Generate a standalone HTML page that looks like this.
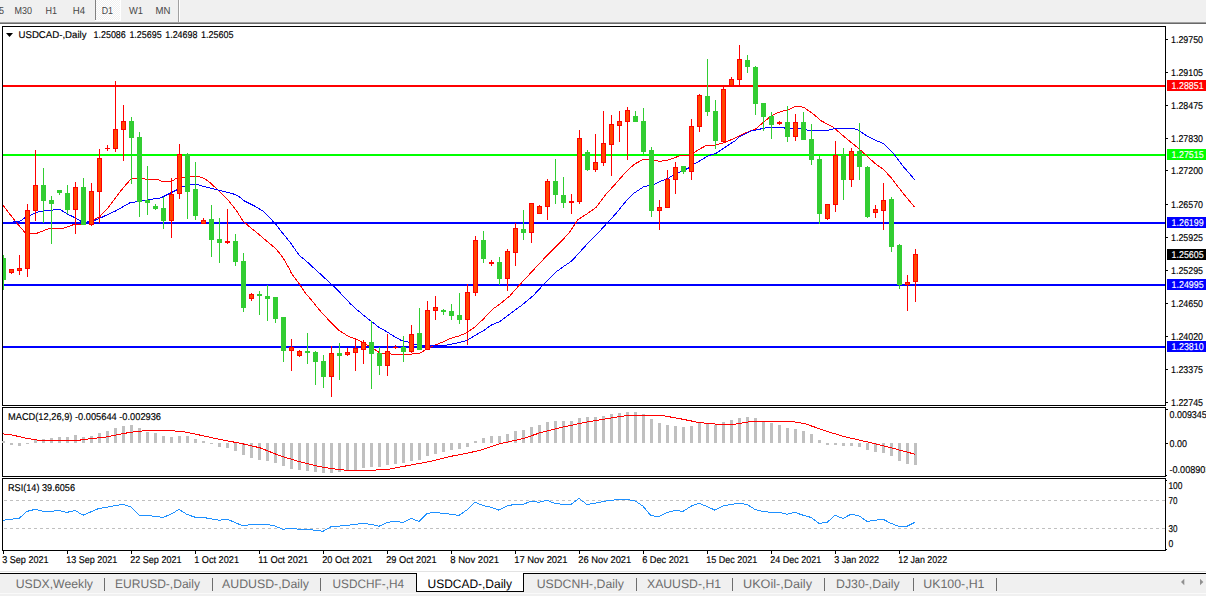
<!DOCTYPE html>
<html><head><meta charset="utf-8"><style>
html,body{margin:0;padding:0;background:#fff;width:1206px;height:596px;overflow:hidden}
svg{display:block;font-family:"Liberation Sans", sans-serif} text{text-rendering:geometricPrecision}
</style></head><body>
<svg width="1206" height="596" viewBox="0 0 1206 596">
<rect width="1206" height="596" fill="#ffffff"/>
<rect x="0" y="0" width="1206" height="22" fill="#f0f0f0"/>
<rect x="0" y="22" width="1206" height="1" fill="#a0a0a0"/>
<rect x="0" y="23" width="1206" height="1" fill="#696969"/>
<defs><pattern id="chk" width="2" height="2" patternUnits="userSpaceOnUse"><rect width="2" height="2" fill="#f0f0f0"/><rect width="1" height="1" fill="#ffffff"/><rect x="1" y="1" width="1" height="1" fill="#ffffff"/></pattern></defs>
<rect x="96" y="0" width="24" height="20" fill="url(#chk)"/>
<rect x="95" y="20" width="26" height="1" fill="#ffffff"/>
<rect x="120" y="0" width="1" height="20" fill="#ffffff"/>
<rect x="95" y="0" width="1" height="20" fill="#808080"/>
<rect x="178" y="0" width="1" height="22" fill="#a0a0a0"/>
<rect x="179" y="0" width="1" height="22" fill="#ffffff"/>
<text x="-1" y="14" font-size="10.2" fill="#474747" textLength="5" lengthAdjust="spacingAndGlyphs">5</text>
<text x="14.5" y="14" font-size="10.2" fill="#474747" textLength="17.5" lengthAdjust="spacingAndGlyphs">M30</text>
<text x="45.5" y="14" font-size="10.2" fill="#474747" textLength="11.5" lengthAdjust="spacingAndGlyphs">H1</text>
<text x="72.7" y="14" font-size="10.2" fill="#474747" textLength="12.3" lengthAdjust="spacingAndGlyphs">H4</text>
<text x="101.7" y="14" font-size="10.2" fill="#474747" textLength="11.3" lengthAdjust="spacingAndGlyphs">D1</text>
<text x="129" y="14" font-size="10.2" fill="#474747" textLength="14" lengthAdjust="spacingAndGlyphs">W1</text>
<text x="155.5" y="14" font-size="10.2" fill="#474747" textLength="14.9" lengthAdjust="spacingAndGlyphs">MN</text>
<g shape-rendering="crispEdges">
<rect x="2.5" y="26.5" width="1163" height="379" fill="none" stroke="#000" stroke-width="1"/>
<rect x="2.5" y="407.5" width="1163" height="69" fill="none" stroke="#000" stroke-width="1"/>
<rect x="2.5" y="478.5" width="1163" height="72" fill="none" stroke="#000" stroke-width="1"/>
</g>
<g shape-rendering="crispEdges">
<rect x="3" y="85" width="1162" height="2" fill="#ff0000"/>
<rect x="3" y="154" width="1162" height="2" fill="#00ff00"/>
<rect x="3" y="222" width="1162" height="2" fill="#0000ff"/>
<rect x="3" y="284" width="1162" height="2" fill="#0000ff"/>
<rect x="3" y="346" width="1162" height="2" fill="#0000ff"/>
</g>
<polyline points="2.9,205.0 15.1,221.0 25.2,232.8 30.2,234.0 36.0,233.6 50.3,228.1 62.1,228.6 75.5,224.0 81.4,224.0 94.2,219.5 99.6,216.8 108.3,207.5 121.4,190.1 131.2,178.6 143.2,178.3 145.4,179.2 157.4,179.4 162.0,181.5 171.4,181.5 176.8,178.1 184.2,177.4 191.5,176.2 197.6,176.4 201.6,177.4 206.3,179.8 211.0,183.5 217.4,189.5 228.2,200.2 236.2,210.3 243.0,221.0 249.7,227.0 255.0,231.2 263.1,238.0 271.1,244.7 276.5,249.4 283.2,258.1 288.6,267.5 291.7,273.8 298.4,282.5 305.1,292.6 311.8,300.6 321.2,312.0 330.6,322.1 338.7,330.2 345.0,334.2 348.1,336.3 356.1,339.0 362.8,342.3 369.5,346.4 374.9,349.7 380.3,353.1 395.0,354.4 407.1,354.4 419.2,353.4 425.9,349.7 433.9,345.6 442.0,342.3 448.7,339.2 455.0,336.9 459.1,335.9 466.6,332.8 474.2,327.5 483.2,319.2 492.3,309.4 499.9,304.1 510.0,295.8 517.1,287.6 529.2,274.5 543.3,259.4 555.3,247.3 565.0,237.3 570.1,231.5 578.1,219.5 586.2,214.4 596.2,207.4 606.3,193.8 616.1,183.2 625.2,172.6 634.2,164.3 643.3,159.4 650.8,159.8 659.9,161.3 668.9,159.8 680.3,155.6 690.3,155.0 693.8,152.6 699.7,149.0 706.7,145.3 714.9,145.3 724.3,142.6 735.0,138.2 740.1,135.3 748.1,131.8 755.2,129.3 761.2,124.2 768.3,118.2 774.3,114.2 782.4,111.1 789.0,109.6 795.1,106.3 800.1,106.6 804.1,107.6 809.2,111.1 815.2,115.6 820.2,120.2 827.3,124.2 833.3,127.2 838.4,131.7 848.4,140.2 856.8,146.9 865.2,154.4 875.2,163.6 883.6,169.5 892.0,178.7 902.1,192.1 914.6,207.2" fill="none" stroke="#ff0000" stroke-width="1" shape-rendering="crispEdges"/>
<polyline points="3.0,223.0 19.7,221.4 25.2,217.6 36.9,212.2 47.0,210.1 52.0,210.1 57.9,209.3 60.4,209.7 67.1,213.9 74.7,217.6 80.5,221.0 83.9,222.7 94.2,220.6 101.8,217.3 116.0,210.8 130.1,202.6 142.1,201.0 150.8,199.3 160.0,198.2 166.7,194.9 176.1,190.2 182.8,186.5 190.2,184.5 197.6,184.5 203.6,186.5 211.0,188.2 218.8,190.1 232.2,193.5 237.6,195.5 244.3,200.9 253.7,205.6 263.1,211.1 269.8,217.8 276.5,225.2 283.2,233.9 289.9,242.0 299.3,255.4 306.0,260.8 310.5,265.1 318.6,272.4 326.6,279.8 333.3,285.9 338.7,291.2 345.0,298.0 350.7,304.1 357.4,310.1 365.5,316.8 371.5,321.5 380.3,328.3 385.0,330.7 393.0,335.7 401.1,340.3 409.1,342.3 415.2,344.3 420.0,345.8 440.0,346.0 445.4,345.3 455.4,343.3 459.1,342.7 466.6,340.4 475.7,335.1 484.8,329.8 490.8,325.3 499.9,321.5 510.0,313.9 521.1,305.7 533.2,295.7 545.3,282.6 555.3,272.5 565.0,265.5 572.1,260.7 580.1,251.7 592.2,238.6 598.0,233.0 607.0,223.2 616.1,213.4 625.2,202.1 634.2,193.0 643.3,187.0 647.8,185.9 653.8,184.7 661.4,181.0 668.9,177.9 673.5,174.9 678.0,173.0 687.9,168.4 693.8,164.3 700.8,160.2 709.0,155.5 716.1,153.2 724.3,147.9 735.0,140.8 740.1,136.3 750.1,131.3 759.2,129.3 767.3,127.5 783.4,127.5 786.4,128.8 790.0,128.2 799.1,128.2 808.2,130.4 828.3,130.4 831.3,129.2 839.4,128.2 846.7,128.4 853.4,128.4 858.4,130.1 866.8,136.0 875.2,140.2 883.6,143.5 893.7,153.6 903.7,167.0 914.6,179.6" fill="none" stroke="#0000ff" stroke-width="1" shape-rendering="crispEdges"/>
<g shape-rendering="crispEdges">
<rect x="3" y="255" width="1" height="35" fill="#32cd32"/>
<rect x="1" y="258" width="5" height="22" fill="#32cd32"/>
<rect x="11" y="269" width="1" height="5" fill="#ff0000"/>
<rect x="9" y="269" width="5" height="4" fill="#ff0000"/>
<rect x="10" y="270" width="3" height="2" fill="#ff4500"/>
<rect x="19" y="255" width="1" height="20" fill="#ff0000"/>
<rect x="17" y="268" width="5" height="3" fill="#ff0000"/>
<rect x="18" y="269" width="3" height="1" fill="#ff4500"/>
<rect x="27" y="204" width="1" height="73" fill="#ff0000"/>
<rect x="25" y="210" width="5" height="59" fill="#ff0000"/>
<rect x="26" y="211" width="3" height="57" fill="#ff4500"/>
<rect x="35" y="150" width="1" height="71" fill="#ff0000"/>
<rect x="33" y="185" width="5" height="26" fill="#ff0000"/>
<rect x="34" y="186" width="3" height="24" fill="#ff4500"/>
<rect x="43" y="168" width="1" height="55" fill="#32cd32"/>
<rect x="41" y="185" width="5" height="16" fill="#32cd32"/>
<rect x="51" y="196" width="1" height="48" fill="#32cd32"/>
<rect x="49" y="200" width="5" height="4" fill="#32cd32"/>
<rect x="59" y="190" width="1" height="5" fill="#32cd32"/>
<rect x="57" y="190" width="5" height="3" fill="#32cd32"/>
<rect x="67" y="185" width="1" height="29" fill="#32cd32"/>
<rect x="65" y="193" width="5" height="17" fill="#32cd32"/>
<rect x="75" y="182" width="1" height="52" fill="#ff0000"/>
<rect x="73" y="187" width="5" height="23" fill="#ff0000"/>
<rect x="74" y="188" width="3" height="21" fill="#ff4500"/>
<rect x="83" y="178" width="1" height="47" fill="#32cd32"/>
<rect x="81" y="187" width="5" height="38" fill="#32cd32"/>
<rect x="91" y="183" width="1" height="43" fill="#ff0000"/>
<rect x="89" y="191" width="5" height="34" fill="#ff0000"/>
<rect x="90" y="192" width="3" height="32" fill="#ff4500"/>
<rect x="99" y="149" width="1" height="74" fill="#ff0000"/>
<rect x="97" y="158" width="5" height="34" fill="#ff0000"/>
<rect x="98" y="159" width="3" height="32" fill="#ff4500"/>
<rect x="107" y="145" width="1" height="6" fill="#ff0000"/>
<rect x="105" y="148" width="5" height="1" fill="#ff0000"/>
<rect x="115" y="81" width="1" height="71" fill="#ff0000"/>
<rect x="113" y="129" width="5" height="20" fill="#ff0000"/>
<rect x="114" y="130" width="3" height="18" fill="#ff4500"/>
<rect x="123" y="105" width="1" height="56" fill="#ff0000"/>
<rect x="121" y="121" width="5" height="9" fill="#ff0000"/>
<rect x="122" y="122" width="3" height="7" fill="#ff4500"/>
<rect x="131" y="117" width="1" height="67" fill="#32cd32"/>
<rect x="129" y="121" width="5" height="17" fill="#32cd32"/>
<rect x="139" y="132" width="1" height="85" fill="#32cd32"/>
<rect x="137" y="137" width="5" height="65" fill="#32cd32"/>
<rect x="147" y="166" width="1" height="49" fill="#32cd32"/>
<rect x="145" y="200" width="5" height="3" fill="#32cd32"/>
<rect x="155" y="204" width="1" height="6" fill="#32cd32"/>
<rect x="153" y="206" width="5" height="3" fill="#32cd32"/>
<rect x="163" y="197" width="1" height="32" fill="#32cd32"/>
<rect x="161" y="208" width="5" height="13" fill="#32cd32"/>
<rect x="171" y="178" width="1" height="60" fill="#ff0000"/>
<rect x="169" y="194" width="5" height="27" fill="#ff0000"/>
<rect x="170" y="195" width="3" height="25" fill="#ff4500"/>
<rect x="179" y="144" width="1" height="55" fill="#ff0000"/>
<rect x="177" y="154" width="5" height="40" fill="#ff0000"/>
<rect x="178" y="155" width="3" height="38" fill="#ff4500"/>
<rect x="187" y="153" width="1" height="66" fill="#32cd32"/>
<rect x="185" y="154" width="5" height="38" fill="#32cd32"/>
<rect x="195" y="162" width="1" height="58" fill="#32cd32"/>
<rect x="193" y="189" width="5" height="27" fill="#32cd32"/>
<rect x="203" y="218" width="1" height="6" fill="#ff0000"/>
<rect x="201" y="220" width="5" height="4" fill="#ff0000"/>
<rect x="202" y="221" width="3" height="2" fill="#ff4500"/>
<rect x="211" y="205" width="1" height="52" fill="#32cd32"/>
<rect x="209" y="219" width="5" height="21" fill="#32cd32"/>
<rect x="219" y="218" width="1" height="45" fill="#32cd32"/>
<rect x="217" y="239" width="5" height="4" fill="#32cd32"/>
<rect x="227" y="209" width="1" height="35" fill="#ff0000"/>
<rect x="225" y="241" width="5" height="2" fill="#ff0000"/>
<rect x="235" y="234" width="1" height="32" fill="#32cd32"/>
<rect x="233" y="241" width="5" height="21" fill="#32cd32"/>
<rect x="243" y="253" width="1" height="59" fill="#32cd32"/>
<rect x="241" y="261" width="5" height="47" fill="#32cd32"/>
<rect x="251" y="293" width="1" height="8" fill="#ff0000"/>
<rect x="249" y="294" width="5" height="5" fill="#ff0000"/>
<rect x="250" y="295" width="3" height="3" fill="#ff4500"/>
<rect x="259" y="291" width="1" height="24" fill="#32cd32"/>
<rect x="257" y="294" width="5" height="2" fill="#32cd32"/>
<rect x="267" y="285" width="1" height="36" fill="#32cd32"/>
<rect x="265" y="296" width="5" height="3" fill="#32cd32"/>
<rect x="275" y="297" width="1" height="26" fill="#32cd32"/>
<rect x="273" y="297" width="5" height="22" fill="#32cd32"/>
<rect x="283" y="317" width="1" height="45" fill="#32cd32"/>
<rect x="281" y="317" width="5" height="34" fill="#32cd32"/>
<rect x="291" y="339" width="1" height="32" fill="#ff0000"/>
<rect x="289" y="347" width="5" height="4" fill="#ff0000"/>
<rect x="290" y="348" width="3" height="2" fill="#ff4500"/>
<rect x="299" y="350" width="1" height="7" fill="#ff0000"/>
<rect x="297" y="351" width="5" height="5" fill="#ff0000"/>
<rect x="298" y="352" width="3" height="3" fill="#ff4500"/>
<rect x="307" y="333" width="1" height="31" fill="#32cd32"/>
<rect x="305" y="351" width="5" height="2" fill="#32cd32"/>
<rect x="315" y="351" width="1" height="34" fill="#32cd32"/>
<rect x="313" y="352" width="5" height="10" fill="#32cd32"/>
<rect x="323" y="355" width="1" height="33" fill="#32cd32"/>
<rect x="321" y="361" width="5" height="16" fill="#32cd32"/>
<rect x="331" y="346" width="1" height="51" fill="#ff0000"/>
<rect x="329" y="353" width="5" height="24" fill="#ff0000"/>
<rect x="330" y="354" width="3" height="22" fill="#ff4500"/>
<rect x="339" y="343" width="1" height="37" fill="#32cd32"/>
<rect x="337" y="353" width="5" height="3" fill="#32cd32"/>
<rect x="347" y="348" width="1" height="8" fill="#ff0000"/>
<rect x="345" y="352" width="5" height="3" fill="#ff0000"/>
<rect x="346" y="353" width="3" height="1" fill="#ff4500"/>
<rect x="355" y="338" width="1" height="33" fill="#ff0000"/>
<rect x="353" y="348" width="5" height="5" fill="#ff0000"/>
<rect x="354" y="349" width="3" height="3" fill="#ff4500"/>
<rect x="363" y="340" width="1" height="24" fill="#ff0000"/>
<rect x="361" y="342" width="5" height="8" fill="#ff0000"/>
<rect x="362" y="343" width="3" height="6" fill="#ff4500"/>
<rect x="371" y="321" width="1" height="68" fill="#32cd32"/>
<rect x="369" y="342" width="5" height="12" fill="#32cd32"/>
<rect x="379" y="347" width="1" height="28" fill="#32cd32"/>
<rect x="377" y="353" width="5" height="13" fill="#32cd32"/>
<rect x="387" y="334" width="1" height="42" fill="#ff0000"/>
<rect x="385" y="351" width="5" height="15" fill="#ff0000"/>
<rect x="386" y="352" width="3" height="13" fill="#ff4500"/>
<rect x="395" y="345" width="1" height="4" fill="#ff0000"/>
<rect x="393" y="347" width="5" height="1" fill="#ff0000"/>
<rect x="403" y="336" width="1" height="26" fill="#32cd32"/>
<rect x="401" y="347" width="5" height="5" fill="#32cd32"/>
<rect x="411" y="325" width="1" height="28" fill="#ff0000"/>
<rect x="409" y="334" width="5" height="18" fill="#ff0000"/>
<rect x="410" y="335" width="3" height="16" fill="#ff4500"/>
<rect x="419" y="308" width="1" height="42" fill="#32cd32"/>
<rect x="417" y="333" width="5" height="17" fill="#32cd32"/>
<rect x="427" y="301" width="1" height="49" fill="#ff0000"/>
<rect x="425" y="310" width="5" height="40" fill="#ff0000"/>
<rect x="426" y="311" width="3" height="38" fill="#ff4500"/>
<rect x="435" y="296" width="1" height="24" fill="#ff0000"/>
<rect x="433" y="307" width="5" height="4" fill="#ff0000"/>
<rect x="434" y="308" width="3" height="2" fill="#ff4500"/>
<rect x="443" y="309" width="1" height="6" fill="#32cd32"/>
<rect x="441" y="310" width="5" height="2" fill="#32cd32"/>
<rect x="451" y="304" width="1" height="16" fill="#32cd32"/>
<rect x="449" y="311" width="5" height="5" fill="#32cd32"/>
<rect x="459" y="293" width="1" height="31" fill="#32cd32"/>
<rect x="457" y="315" width="5" height="5" fill="#32cd32"/>
<rect x="467" y="284" width="1" height="61" fill="#ff0000"/>
<rect x="465" y="292" width="5" height="28" fill="#ff0000"/>
<rect x="466" y="293" width="3" height="26" fill="#ff4500"/>
<rect x="475" y="236" width="1" height="60" fill="#ff0000"/>
<rect x="473" y="240" width="5" height="53" fill="#ff0000"/>
<rect x="474" y="241" width="3" height="51" fill="#ff4500"/>
<rect x="483" y="231" width="1" height="32" fill="#32cd32"/>
<rect x="481" y="240" width="5" height="19" fill="#32cd32"/>
<rect x="491" y="260" width="1" height="6" fill="#ff0000"/>
<rect x="489" y="262" width="5" height="2" fill="#ff0000"/>
<rect x="499" y="257" width="1" height="28" fill="#32cd32"/>
<rect x="497" y="262" width="5" height="17" fill="#32cd32"/>
<rect x="507" y="249" width="1" height="42" fill="#ff0000"/>
<rect x="505" y="251" width="5" height="28" fill="#ff0000"/>
<rect x="506" y="252" width="3" height="26" fill="#ff4500"/>
<rect x="515" y="223" width="1" height="43" fill="#ff0000"/>
<rect x="513" y="228" width="5" height="25" fill="#ff0000"/>
<rect x="514" y="229" width="3" height="23" fill="#ff4500"/>
<rect x="523" y="210" width="1" height="30" fill="#32cd32"/>
<rect x="521" y="229" width="5" height="4" fill="#32cd32"/>
<rect x="531" y="203" width="1" height="40" fill="#ff0000"/>
<rect x="529" y="203" width="5" height="30" fill="#ff0000"/>
<rect x="530" y="204" width="3" height="28" fill="#ff4500"/>
<rect x="539" y="205" width="1" height="9" fill="#ff0000"/>
<rect x="537" y="206" width="5" height="8" fill="#ff0000"/>
<rect x="538" y="207" width="3" height="6" fill="#ff4500"/>
<rect x="547" y="179" width="1" height="41" fill="#ff0000"/>
<rect x="545" y="181" width="5" height="26" fill="#ff0000"/>
<rect x="546" y="182" width="3" height="24" fill="#ff4500"/>
<rect x="555" y="159" width="1" height="45" fill="#32cd32"/>
<rect x="553" y="181" width="5" height="14" fill="#32cd32"/>
<rect x="563" y="177" width="1" height="31" fill="#32cd32"/>
<rect x="561" y="195" width="5" height="8" fill="#32cd32"/>
<rect x="571" y="194" width="1" height="20" fill="#ff0000"/>
<rect x="569" y="201" width="5" height="2" fill="#ff0000"/>
<rect x="579" y="130" width="1" height="74" fill="#ff0000"/>
<rect x="577" y="138" width="5" height="64" fill="#ff0000"/>
<rect x="578" y="139" width="3" height="62" fill="#ff4500"/>
<rect x="587" y="150" width="1" height="21" fill="#32cd32"/>
<rect x="585" y="152" width="5" height="18" fill="#32cd32"/>
<rect x="595" y="134" width="1" height="38" fill="#ff0000"/>
<rect x="593" y="162" width="5" height="8" fill="#ff0000"/>
<rect x="594" y="163" width="3" height="6" fill="#ff4500"/>
<rect x="603" y="111" width="1" height="55" fill="#ff0000"/>
<rect x="601" y="143" width="5" height="20" fill="#ff0000"/>
<rect x="602" y="144" width="3" height="18" fill="#ff4500"/>
<rect x="611" y="115" width="1" height="61" fill="#ff0000"/>
<rect x="609" y="124" width="5" height="21" fill="#ff0000"/>
<rect x="610" y="125" width="3" height="19" fill="#ff4500"/>
<rect x="619" y="111" width="1" height="31" fill="#ff0000"/>
<rect x="617" y="121" width="5" height="5" fill="#ff0000"/>
<rect x="618" y="122" width="3" height="3" fill="#ff4500"/>
<rect x="627" y="107" width="1" height="53" fill="#ff0000"/>
<rect x="625" y="110" width="5" height="12" fill="#ff0000"/>
<rect x="626" y="111" width="3" height="10" fill="#ff4500"/>
<rect x="635" y="111" width="1" height="11" fill="#32cd32"/>
<rect x="633" y="116" width="5" height="6" fill="#32cd32"/>
<rect x="643" y="108" width="1" height="46" fill="#32cd32"/>
<rect x="641" y="121" width="5" height="31" fill="#32cd32"/>
<rect x="651" y="147" width="1" height="70" fill="#32cd32"/>
<rect x="649" y="150" width="5" height="61" fill="#32cd32"/>
<rect x="659" y="200" width="1" height="30" fill="#ff0000"/>
<rect x="657" y="207" width="5" height="4" fill="#ff0000"/>
<rect x="658" y="208" width="3" height="2" fill="#ff4500"/>
<rect x="667" y="170" width="1" height="38" fill="#ff0000"/>
<rect x="665" y="179" width="5" height="29" fill="#ff0000"/>
<rect x="666" y="180" width="3" height="27" fill="#ff4500"/>
<rect x="675" y="162" width="1" height="32" fill="#ff0000"/>
<rect x="673" y="167" width="5" height="13" fill="#ff0000"/>
<rect x="674" y="168" width="3" height="11" fill="#ff4500"/>
<rect x="683" y="166" width="1" height="8" fill="#32cd32"/>
<rect x="681" y="166" width="5" height="6" fill="#32cd32"/>
<rect x="691" y="119" width="1" height="61" fill="#ff0000"/>
<rect x="689" y="126" width="5" height="46" fill="#ff0000"/>
<rect x="690" y="127" width="3" height="44" fill="#ff4500"/>
<rect x="699" y="94" width="1" height="38" fill="#ff0000"/>
<rect x="697" y="95" width="5" height="32" fill="#ff0000"/>
<rect x="698" y="96" width="3" height="30" fill="#ff4500"/>
<rect x="707" y="59" width="1" height="57" fill="#32cd32"/>
<rect x="705" y="96" width="5" height="16" fill="#32cd32"/>
<rect x="715" y="100" width="1" height="49" fill="#32cd32"/>
<rect x="713" y="111" width="5" height="30" fill="#32cd32"/>
<rect x="723" y="86" width="1" height="56" fill="#ff0000"/>
<rect x="721" y="89" width="5" height="53" fill="#ff0000"/>
<rect x="722" y="90" width="3" height="51" fill="#ff4500"/>
<rect x="731" y="77" width="1" height="9" fill="#ff0000"/>
<rect x="729" y="79" width="5" height="7" fill="#ff0000"/>
<rect x="730" y="80" width="3" height="5" fill="#ff4500"/>
<rect x="739" y="45" width="1" height="41" fill="#ff0000"/>
<rect x="737" y="59" width="5" height="21" fill="#ff0000"/>
<rect x="738" y="60" width="3" height="19" fill="#ff4500"/>
<rect x="747" y="55" width="1" height="18" fill="#32cd32"/>
<rect x="745" y="60" width="5" height="7" fill="#32cd32"/>
<rect x="755" y="66" width="1" height="49" fill="#32cd32"/>
<rect x="753" y="67" width="5" height="37" fill="#32cd32"/>
<rect x="763" y="103" width="1" height="28" fill="#32cd32"/>
<rect x="761" y="103" width="5" height="14" fill="#32cd32"/>
<rect x="771" y="112" width="1" height="27" fill="#32cd32"/>
<rect x="769" y="116" width="5" height="9" fill="#32cd32"/>
<rect x="779" y="121" width="1" height="4" fill="#ff0000"/>
<rect x="777" y="122" width="5" height="2" fill="#ff0000"/>
<rect x="787" y="106" width="1" height="36" fill="#32cd32"/>
<rect x="785" y="122" width="5" height="15" fill="#32cd32"/>
<rect x="795" y="114" width="1" height="27" fill="#ff0000"/>
<rect x="793" y="122" width="5" height="15" fill="#ff0000"/>
<rect x="794" y="123" width="3" height="13" fill="#ff4500"/>
<rect x="803" y="112" width="1" height="28" fill="#32cd32"/>
<rect x="801" y="122" width="5" height="18" fill="#32cd32"/>
<rect x="811" y="124" width="1" height="41" fill="#32cd32"/>
<rect x="809" y="139" width="5" height="21" fill="#32cd32"/>
<rect x="819" y="156" width="1" height="68" fill="#32cd32"/>
<rect x="817" y="159" width="5" height="55" fill="#32cd32"/>
<rect x="827" y="204" width="1" height="16" fill="#ff0000"/>
<rect x="825" y="204" width="5" height="15" fill="#ff0000"/>
<rect x="826" y="205" width="3" height="13" fill="#ff4500"/>
<rect x="835" y="141" width="1" height="71" fill="#ff0000"/>
<rect x="833" y="155" width="5" height="50" fill="#ff0000"/>
<rect x="834" y="156" width="3" height="48" fill="#ff4500"/>
<rect x="843" y="148" width="1" height="52" fill="#32cd32"/>
<rect x="841" y="155" width="5" height="25" fill="#32cd32"/>
<rect x="851" y="148" width="1" height="39" fill="#ff0000"/>
<rect x="849" y="151" width="5" height="29" fill="#ff0000"/>
<rect x="850" y="152" width="3" height="27" fill="#ff4500"/>
<rect x="859" y="123" width="1" height="57" fill="#32cd32"/>
<rect x="857" y="151" width="5" height="16" fill="#32cd32"/>
<rect x="867" y="166" width="1" height="52" fill="#32cd32"/>
<rect x="865" y="167" width="5" height="50" fill="#32cd32"/>
<rect x="875" y="205" width="1" height="13" fill="#ff0000"/>
<rect x="873" y="209" width="5" height="4" fill="#ff0000"/>
<rect x="874" y="210" width="3" height="2" fill="#ff4500"/>
<rect x="883" y="183" width="1" height="47" fill="#ff0000"/>
<rect x="881" y="200" width="5" height="11" fill="#ff0000"/>
<rect x="882" y="201" width="3" height="9" fill="#ff4500"/>
<rect x="891" y="197" width="1" height="55" fill="#32cd32"/>
<rect x="889" y="199" width="5" height="48" fill="#32cd32"/>
<rect x="899" y="244" width="1" height="45" fill="#32cd32"/>
<rect x="897" y="245" width="5" height="40" fill="#32cd32"/>
<rect x="907" y="275" width="1" height="36" fill="#ff0000"/>
<rect x="905" y="282" width="5" height="3" fill="#ff0000"/>
<rect x="906" y="283" width="3" height="1" fill="#ff4500"/>
<rect x="915" y="249" width="1" height="53" fill="#ff0000"/>
<rect x="913" y="254" width="5" height="28" fill="#ff0000"/>
<rect x="914" y="255" width="3" height="26" fill="#ff4500"/>
</g>
<rect x="0" y="26" width="2" height="380" fill="#ffffff"/>
<g shape-rendering="crispEdges">
<rect x="2" y="26" width="1" height="380" fill="#000"/>
</g>
<rect x="1166" y="39" width="2" height="1" fill="#000"/>
<text x="1171" y="43" font-size="9.9" fill="#000" textLength="32" lengthAdjust="spacingAndGlyphs" stroke="#000" stroke-width="0.15">1.29750</text>
<rect x="1166" y="72" width="2" height="1" fill="#000"/>
<text x="1171" y="76" font-size="9.9" fill="#000" textLength="32" lengthAdjust="spacingAndGlyphs" stroke="#000" stroke-width="0.15">1.29105</text>
<rect x="1166" y="105" width="2" height="1" fill="#000"/>
<text x="1171" y="109" font-size="9.9" fill="#000" textLength="32" lengthAdjust="spacingAndGlyphs" stroke="#000" stroke-width="0.15">1.28475</text>
<rect x="1166" y="138" width="2" height="1" fill="#000"/>
<text x="1171" y="142" font-size="9.9" fill="#000" textLength="32" lengthAdjust="spacingAndGlyphs" stroke="#000" stroke-width="0.15">1.27830</text>
<rect x="1166" y="170" width="2" height="1" fill="#000"/>
<text x="1171" y="174" font-size="9.9" fill="#000" textLength="32" lengthAdjust="spacingAndGlyphs" stroke="#000" stroke-width="0.15">1.27200</text>
<rect x="1166" y="204" width="2" height="1" fill="#000"/>
<text x="1171" y="208" font-size="9.9" fill="#000" textLength="32" lengthAdjust="spacingAndGlyphs" stroke="#000" stroke-width="0.15">1.26570</text>
<rect x="1166" y="237" width="2" height="1" fill="#000"/>
<text x="1171" y="241" font-size="9.9" fill="#000" textLength="32" lengthAdjust="spacingAndGlyphs" stroke="#000" stroke-width="0.15">1.25925</text>
<rect x="1166" y="270" width="2" height="1" fill="#000"/>
<text x="1171" y="274" font-size="9.9" fill="#000" textLength="32" lengthAdjust="spacingAndGlyphs" stroke="#000" stroke-width="0.15">1.25295</text>
<rect x="1166" y="303" width="2" height="1" fill="#000"/>
<text x="1171" y="307" font-size="9.9" fill="#000" textLength="32" lengthAdjust="spacingAndGlyphs" stroke="#000" stroke-width="0.15">1.24650</text>
<rect x="1166" y="336" width="2" height="1" fill="#000"/>
<text x="1171" y="340" font-size="9.9" fill="#000" textLength="32" lengthAdjust="spacingAndGlyphs" stroke="#000" stroke-width="0.15">1.24020</text>
<rect x="1166" y="369" width="2" height="1" fill="#000"/>
<text x="1171" y="373" font-size="9.9" fill="#000" textLength="32" lengthAdjust="spacingAndGlyphs" stroke="#000" stroke-width="0.15">1.23375</text>
<rect x="1166" y="402" width="2" height="1" fill="#000"/>
<text x="1171" y="406" font-size="9.9" fill="#000" textLength="32" lengthAdjust="spacingAndGlyphs" stroke="#000" stroke-width="0.15">1.22745</text>
<rect x="1167" y="80" width="39" height="11" fill="#ff0000"/>
<text x="1171.6" y="89" font-size="9.9" fill="#fff" textLength="32" lengthAdjust="spacingAndGlyphs" stroke="#fff" stroke-width="0.15">1.28851</text>
<rect x="1167" y="149" width="39" height="11" fill="#00ff00"/>
<text x="1171.6" y="158" font-size="9.9" fill="#fff" textLength="32" lengthAdjust="spacingAndGlyphs" stroke="#fff" stroke-width="0.15">1.27515</text>
<rect x="1167" y="217" width="39" height="11" fill="#0000ff"/>
<text x="1171.6" y="226" font-size="9.9" fill="#fff" textLength="32" lengthAdjust="spacingAndGlyphs" stroke="#fff" stroke-width="0.15">1.26199</text>
<rect x="1167" y="249" width="39" height="11" fill="#000000"/>
<text x="1171.6" y="258" font-size="9.9" fill="#fff" textLength="32" lengthAdjust="spacingAndGlyphs" stroke="#fff" stroke-width="0.15">1.25605</text>
<rect x="1167" y="279" width="39" height="11" fill="#0000ff"/>
<text x="1171.6" y="288" font-size="9.9" fill="#fff" textLength="32" lengthAdjust="spacingAndGlyphs" stroke="#fff" stroke-width="0.15">1.24995</text>
<rect x="1167" y="341" width="39" height="11" fill="#0000ff"/>
<text x="1171.6" y="350" font-size="9.9" fill="#fff" textLength="32" lengthAdjust="spacingAndGlyphs" stroke="#fff" stroke-width="0.15">1.23810</text>
<path d="M6,33 L13,33 L9.5,37 Z" fill="#000"/>
<text x="18.5" y="38" font-size="9.9" fill="#000" textLength="68" lengthAdjust="spacingAndGlyphs" stroke="#000" stroke-width="0.15">USDCAD-,Daily</text>
<text x="93.5" y="38" font-size="9.9" fill="#000" textLength="32.3" lengthAdjust="spacingAndGlyphs" stroke="#000" stroke-width="0.15">1.25086</text>
<text x="129.4" y="38" font-size="9.9" fill="#000" textLength="32.3" lengthAdjust="spacingAndGlyphs" stroke="#000" stroke-width="0.15">1.25695</text>
<text x="165.2" y="38" font-size="9.9" fill="#000" textLength="32.3" lengthAdjust="spacingAndGlyphs" stroke="#000" stroke-width="0.15">1.24698</text>
<text x="201" y="38" font-size="9.9" fill="#000" textLength="32.6" lengthAdjust="spacingAndGlyphs" stroke="#000" stroke-width="0.15">1.25605</text>
<g shape-rendering="crispEdges">
<rect x="2" y="441" width="3" height="2" fill="#c0c0c0"/>
<rect x="10" y="443" width="3" height="2" fill="#c0c0c0"/>
<rect x="18" y="443" width="3" height="3" fill="#c0c0c0"/>
<rect x="26" y="443" width="3" height="1" fill="#c0c0c0"/>
<rect x="34" y="439" width="3" height="4" fill="#c0c0c0"/>
<rect x="42" y="439" width="3" height="4" fill="#c0c0c0"/>
<rect x="50" y="438" width="3" height="5" fill="#c0c0c0"/>
<rect x="58" y="437" width="3" height="6" fill="#c0c0c0"/>
<rect x="66" y="437" width="3" height="6" fill="#c0c0c0"/>
<rect x="74" y="435" width="3" height="8" fill="#c0c0c0"/>
<rect x="82" y="437" width="3" height="6" fill="#c0c0c0"/>
<rect x="90" y="436" width="3" height="7" fill="#c0c0c0"/>
<rect x="98" y="433" width="3" height="10" fill="#c0c0c0"/>
<rect x="106" y="431" width="3" height="12" fill="#c0c0c0"/>
<rect x="114" y="428" width="3" height="15" fill="#c0c0c0"/>
<rect x="122" y="426" width="3" height="17" fill="#c0c0c0"/>
<rect x="130" y="425" width="3" height="18" fill="#c0c0c0"/>
<rect x="138" y="428" width="3" height="15" fill="#c0c0c0"/>
<rect x="146" y="432" width="3" height="11" fill="#c0c0c0"/>
<rect x="154" y="433" width="3" height="10" fill="#c0c0c0"/>
<rect x="162" y="436" width="3" height="7" fill="#c0c0c0"/>
<rect x="170" y="437" width="3" height="6" fill="#c0c0c0"/>
<rect x="178" y="436" width="3" height="7" fill="#c0c0c0"/>
<rect x="186" y="436" width="3" height="7" fill="#c0c0c0"/>
<rect x="194" y="439" width="3" height="4" fill="#c0c0c0"/>
<rect x="202" y="441" width="3" height="2" fill="#c0c0c0"/>
<rect x="210" y="443" width="3" height="1" fill="#c0c0c0"/>
<rect x="218" y="443" width="3" height="4" fill="#c0c0c0"/>
<rect x="226" y="443" width="3" height="5" fill="#c0c0c0"/>
<rect x="234" y="443" width="3" height="8" fill="#c0c0c0"/>
<rect x="242" y="443" width="3" height="12" fill="#c0c0c0"/>
<rect x="250" y="443" width="3" height="15" fill="#c0c0c0"/>
<rect x="258" y="443" width="3" height="17" fill="#c0c0c0"/>
<rect x="266" y="443" width="3" height="18" fill="#c0c0c0"/>
<rect x="274" y="443" width="3" height="20" fill="#c0c0c0"/>
<rect x="282" y="443" width="3" height="23" fill="#c0c0c0"/>
<rect x="290" y="443" width="3" height="26" fill="#c0c0c0"/>
<rect x="298" y="443" width="3" height="27" fill="#c0c0c0"/>
<rect x="306" y="443" width="3" height="28" fill="#c0c0c0"/>
<rect x="314" y="443" width="3" height="29" fill="#c0c0c0"/>
<rect x="322" y="443" width="3" height="30" fill="#c0c0c0"/>
<rect x="330" y="443" width="3" height="30" fill="#c0c0c0"/>
<rect x="338" y="443" width="3" height="29" fill="#c0c0c0"/>
<rect x="346" y="443" width="3" height="28" fill="#c0c0c0"/>
<rect x="354" y="443" width="3" height="27" fill="#c0c0c0"/>
<rect x="362" y="443" width="3" height="25" fill="#c0c0c0"/>
<rect x="370" y="443" width="3" height="24" fill="#c0c0c0"/>
<rect x="378" y="443" width="3" height="24" fill="#c0c0c0"/>
<rect x="386" y="443" width="3" height="22" fill="#c0c0c0"/>
<rect x="394" y="443" width="3" height="21" fill="#c0c0c0"/>
<rect x="402" y="443" width="3" height="20" fill="#c0c0c0"/>
<rect x="410" y="443" width="3" height="18" fill="#c0c0c0"/>
<rect x="418" y="443" width="3" height="17" fill="#c0c0c0"/>
<rect x="426" y="443" width="3" height="13" fill="#c0c0c0"/>
<rect x="434" y="443" width="3" height="11" fill="#c0c0c0"/>
<rect x="442" y="443" width="3" height="9" fill="#c0c0c0"/>
<rect x="450" y="443" width="3" height="7" fill="#c0c0c0"/>
<rect x="458" y="443" width="3" height="6" fill="#c0c0c0"/>
<rect x="466" y="443" width="3" height="4" fill="#c0c0c0"/>
<rect x="474" y="441" width="3" height="2" fill="#c0c0c0"/>
<rect x="482" y="438" width="3" height="5" fill="#c0c0c0"/>
<rect x="490" y="436" width="3" height="7" fill="#c0c0c0"/>
<rect x="498" y="436" width="3" height="7" fill="#c0c0c0"/>
<rect x="506" y="434" width="3" height="9" fill="#c0c0c0"/>
<rect x="514" y="431" width="3" height="12" fill="#c0c0c0"/>
<rect x="522" y="430" width="3" height="13" fill="#c0c0c0"/>
<rect x="530" y="427" width="3" height="16" fill="#c0c0c0"/>
<rect x="538" y="425" width="3" height="18" fill="#c0c0c0"/>
<rect x="546" y="422" width="3" height="21" fill="#c0c0c0"/>
<rect x="554" y="421" width="3" height="22" fill="#c0c0c0"/>
<rect x="562" y="421" width="3" height="22" fill="#c0c0c0"/>
<rect x="570" y="421" width="3" height="22" fill="#c0c0c0"/>
<rect x="578" y="418" width="3" height="25" fill="#c0c0c0"/>
<rect x="586" y="417" width="3" height="26" fill="#c0c0c0"/>
<rect x="594" y="417" width="3" height="26" fill="#c0c0c0"/>
<rect x="602" y="416" width="3" height="27" fill="#c0c0c0"/>
<rect x="610" y="414" width="3" height="29" fill="#c0c0c0"/>
<rect x="618" y="413" width="3" height="30" fill="#c0c0c0"/>
<rect x="626" y="412" width="3" height="31" fill="#c0c0c0"/>
<rect x="634" y="412" width="3" height="31" fill="#c0c0c0"/>
<rect x="642" y="414" width="3" height="29" fill="#c0c0c0"/>
<rect x="650" y="419" width="3" height="24" fill="#c0c0c0"/>
<rect x="658" y="423" width="3" height="20" fill="#c0c0c0"/>
<rect x="666" y="425" width="3" height="18" fill="#c0c0c0"/>
<rect x="674" y="426" width="3" height="17" fill="#c0c0c0"/>
<rect x="682" y="427" width="3" height="16" fill="#c0c0c0"/>
<rect x="690" y="426" width="3" height="17" fill="#c0c0c0"/>
<rect x="698" y="423" width="3" height="20" fill="#c0c0c0"/>
<rect x="706" y="424" width="3" height="19" fill="#c0c0c0"/>
<rect x="714" y="425" width="3" height="18" fill="#c0c0c0"/>
<rect x="722" y="422" width="3" height="21" fill="#c0c0c0"/>
<rect x="730" y="420" width="3" height="23" fill="#c0c0c0"/>
<rect x="738" y="418" width="3" height="25" fill="#c0c0c0"/>
<rect x="746" y="417" width="3" height="26" fill="#c0c0c0"/>
<rect x="754" y="418" width="3" height="25" fill="#c0c0c0"/>
<rect x="762" y="422" width="3" height="21" fill="#c0c0c0"/>
<rect x="770" y="423" width="3" height="20" fill="#c0c0c0"/>
<rect x="778" y="425" width="3" height="18" fill="#c0c0c0"/>
<rect x="786" y="428" width="3" height="15" fill="#c0c0c0"/>
<rect x="794" y="429" width="3" height="14" fill="#c0c0c0"/>
<rect x="802" y="431" width="3" height="12" fill="#c0c0c0"/>
<rect x="810" y="434" width="3" height="9" fill="#c0c0c0"/>
<rect x="818" y="440" width="3" height="3" fill="#c0c0c0"/>
<rect x="826" y="443" width="3" height="2" fill="#c0c0c0"/>
<rect x="834" y="443" width="3" height="2" fill="#c0c0c0"/>
<rect x="842" y="443" width="3" height="3" fill="#c0c0c0"/>
<rect x="850" y="443" width="3" height="3" fill="#c0c0c0"/>
<rect x="858" y="443" width="3" height="4" fill="#c0c0c0"/>
<rect x="866" y="443" width="3" height="7" fill="#c0c0c0"/>
<rect x="874" y="443" width="3" height="9" fill="#c0c0c0"/>
<rect x="882" y="443" width="3" height="10" fill="#c0c0c0"/>
<rect x="890" y="443" width="3" height="13" fill="#c0c0c0"/>
<rect x="898" y="443" width="3" height="18" fill="#c0c0c0"/>
<rect x="906" y="443" width="3" height="21" fill="#c0c0c0"/>
<rect x="914" y="443" width="3" height="22" fill="#c0c0c0"/>
</g>
<polyline points="3.0,433.9 12.0,434.9 23.9,437.8 39.8,440.4 59.7,440.4 77.6,440.4 89.6,438.8 107.5,436.8 123.4,433.5 137.3,431.3 151.2,430.5 167.2,430.5 183.0,431.5 199.0,434.9 214.9,438.4 226.9,440.8 240.0,443.2 259.9,447.8 279.8,455.7 299.7,461.7 319.6,466.7 339.5,469.7 347.5,470.3 371.3,470.3 389.3,469.1 409.2,465.3 429.0,461.7 449.0,456.7 468.9,452.8 480.0,450.4 499.9,443.8 523.8,438.4 539.7,432.9 563.6,426.9 587.5,421.9 611.3,417.9 631.2,415.0 659.1,415.0 679.0,418.5 698.9,422.5 720.0,424.5 734.0,424.3 751.8,421.3 791.6,421.3 805.6,423.9 825.5,430.9 843.4,436.4 869.3,442.4 891.1,447.8 915.0,454.2" fill="none" stroke="#ff0000" stroke-width="1" shape-rendering="crispEdges"/>
<text x="8" y="420" font-size="9.9" fill="#000" textLength="153" lengthAdjust="spacingAndGlyphs" stroke="#000" stroke-width="0.15">MACD(12,26,9) -0.005644 -0.002936</text>
<rect x="1166" y="409" width="2" height="1" fill="#000"/>
<text x="1169.5" y="418" font-size="9.9" fill="#000" textLength="37.3" lengthAdjust="spacingAndGlyphs" stroke="#000" stroke-width="0.15">0.009345</text>
<rect x="1166" y="443" width="2" height="1" fill="#000"/>
<text x="1169.5" y="447" font-size="9.9" fill="#000" textLength="17.4" lengthAdjust="spacingAndGlyphs" stroke="#000" stroke-width="0.15">0.00</text>
<rect x="1166" y="475" width="1" height="1" fill="#000"/>
<text x="1169.5" y="473" font-size="9.9" fill="#000" textLength="41" lengthAdjust="spacingAndGlyphs" stroke="#000" stroke-width="0.15">-0.008903</text>
<g shape-rendering="crispEdges">
<rect x="4" y="500" width="3" height="1" fill="#c0c0c0"/>
<rect x="10" y="500" width="3" height="1" fill="#c0c0c0"/>
<rect x="16" y="500" width="3" height="1" fill="#c0c0c0"/>
<rect x="22" y="500" width="3" height="1" fill="#c0c0c0"/>
<rect x="28" y="500" width="3" height="1" fill="#c0c0c0"/>
<rect x="34" y="500" width="3" height="1" fill="#c0c0c0"/>
<rect x="40" y="500" width="3" height="1" fill="#c0c0c0"/>
<rect x="46" y="500" width="3" height="1" fill="#c0c0c0"/>
<rect x="52" y="500" width="3" height="1" fill="#c0c0c0"/>
<rect x="58" y="500" width="3" height="1" fill="#c0c0c0"/>
<rect x="64" y="500" width="3" height="1" fill="#c0c0c0"/>
<rect x="70" y="500" width="3" height="1" fill="#c0c0c0"/>
<rect x="76" y="500" width="3" height="1" fill="#c0c0c0"/>
<rect x="82" y="500" width="3" height="1" fill="#c0c0c0"/>
<rect x="88" y="500" width="3" height="1" fill="#c0c0c0"/>
<rect x="94" y="500" width="3" height="1" fill="#c0c0c0"/>
<rect x="100" y="500" width="3" height="1" fill="#c0c0c0"/>
<rect x="106" y="500" width="3" height="1" fill="#c0c0c0"/>
<rect x="112" y="500" width="3" height="1" fill="#c0c0c0"/>
<rect x="118" y="500" width="3" height="1" fill="#c0c0c0"/>
<rect x="124" y="500" width="3" height="1" fill="#c0c0c0"/>
<rect x="130" y="500" width="3" height="1" fill="#c0c0c0"/>
<rect x="136" y="500" width="3" height="1" fill="#c0c0c0"/>
<rect x="142" y="500" width="3" height="1" fill="#c0c0c0"/>
<rect x="148" y="500" width="3" height="1" fill="#c0c0c0"/>
<rect x="154" y="500" width="3" height="1" fill="#c0c0c0"/>
<rect x="160" y="500" width="3" height="1" fill="#c0c0c0"/>
<rect x="166" y="500" width="3" height="1" fill="#c0c0c0"/>
<rect x="172" y="500" width="3" height="1" fill="#c0c0c0"/>
<rect x="178" y="500" width="3" height="1" fill="#c0c0c0"/>
<rect x="184" y="500" width="3" height="1" fill="#c0c0c0"/>
<rect x="190" y="500" width="3" height="1" fill="#c0c0c0"/>
<rect x="196" y="500" width="3" height="1" fill="#c0c0c0"/>
<rect x="202" y="500" width="3" height="1" fill="#c0c0c0"/>
<rect x="208" y="500" width="3" height="1" fill="#c0c0c0"/>
<rect x="214" y="500" width="3" height="1" fill="#c0c0c0"/>
<rect x="220" y="500" width="3" height="1" fill="#c0c0c0"/>
<rect x="226" y="500" width="3" height="1" fill="#c0c0c0"/>
<rect x="232" y="500" width="3" height="1" fill="#c0c0c0"/>
<rect x="238" y="500" width="3" height="1" fill="#c0c0c0"/>
<rect x="244" y="500" width="3" height="1" fill="#c0c0c0"/>
<rect x="250" y="500" width="3" height="1" fill="#c0c0c0"/>
<rect x="256" y="500" width="3" height="1" fill="#c0c0c0"/>
<rect x="262" y="500" width="3" height="1" fill="#c0c0c0"/>
<rect x="268" y="500" width="3" height="1" fill="#c0c0c0"/>
<rect x="274" y="500" width="3" height="1" fill="#c0c0c0"/>
<rect x="280" y="500" width="3" height="1" fill="#c0c0c0"/>
<rect x="286" y="500" width="3" height="1" fill="#c0c0c0"/>
<rect x="292" y="500" width="3" height="1" fill="#c0c0c0"/>
<rect x="298" y="500" width="3" height="1" fill="#c0c0c0"/>
<rect x="304" y="500" width="3" height="1" fill="#c0c0c0"/>
<rect x="310" y="500" width="3" height="1" fill="#c0c0c0"/>
<rect x="316" y="500" width="3" height="1" fill="#c0c0c0"/>
<rect x="322" y="500" width="3" height="1" fill="#c0c0c0"/>
<rect x="328" y="500" width="3" height="1" fill="#c0c0c0"/>
<rect x="334" y="500" width="3" height="1" fill="#c0c0c0"/>
<rect x="340" y="500" width="3" height="1" fill="#c0c0c0"/>
<rect x="346" y="500" width="3" height="1" fill="#c0c0c0"/>
<rect x="352" y="500" width="3" height="1" fill="#c0c0c0"/>
<rect x="358" y="500" width="3" height="1" fill="#c0c0c0"/>
<rect x="364" y="500" width="3" height="1" fill="#c0c0c0"/>
<rect x="370" y="500" width="3" height="1" fill="#c0c0c0"/>
<rect x="376" y="500" width="3" height="1" fill="#c0c0c0"/>
<rect x="382" y="500" width="3" height="1" fill="#c0c0c0"/>
<rect x="388" y="500" width="3" height="1" fill="#c0c0c0"/>
<rect x="394" y="500" width="3" height="1" fill="#c0c0c0"/>
<rect x="400" y="500" width="3" height="1" fill="#c0c0c0"/>
<rect x="406" y="500" width="3" height="1" fill="#c0c0c0"/>
<rect x="412" y="500" width="3" height="1" fill="#c0c0c0"/>
<rect x="418" y="500" width="3" height="1" fill="#c0c0c0"/>
<rect x="424" y="500" width="3" height="1" fill="#c0c0c0"/>
<rect x="430" y="500" width="3" height="1" fill="#c0c0c0"/>
<rect x="436" y="500" width="3" height="1" fill="#c0c0c0"/>
<rect x="442" y="500" width="3" height="1" fill="#c0c0c0"/>
<rect x="448" y="500" width="3" height="1" fill="#c0c0c0"/>
<rect x="454" y="500" width="3" height="1" fill="#c0c0c0"/>
<rect x="460" y="500" width="3" height="1" fill="#c0c0c0"/>
<rect x="466" y="500" width="3" height="1" fill="#c0c0c0"/>
<rect x="472" y="500" width="3" height="1" fill="#c0c0c0"/>
<rect x="478" y="500" width="3" height="1" fill="#c0c0c0"/>
<rect x="484" y="500" width="3" height="1" fill="#c0c0c0"/>
<rect x="490" y="500" width="3" height="1" fill="#c0c0c0"/>
<rect x="496" y="500" width="3" height="1" fill="#c0c0c0"/>
<rect x="502" y="500" width="3" height="1" fill="#c0c0c0"/>
<rect x="508" y="500" width="3" height="1" fill="#c0c0c0"/>
<rect x="514" y="500" width="3" height="1" fill="#c0c0c0"/>
<rect x="520" y="500" width="3" height="1" fill="#c0c0c0"/>
<rect x="526" y="500" width="3" height="1" fill="#c0c0c0"/>
<rect x="532" y="500" width="3" height="1" fill="#c0c0c0"/>
<rect x="538" y="500" width="3" height="1" fill="#c0c0c0"/>
<rect x="544" y="500" width="3" height="1" fill="#c0c0c0"/>
<rect x="550" y="500" width="3" height="1" fill="#c0c0c0"/>
<rect x="556" y="500" width="3" height="1" fill="#c0c0c0"/>
<rect x="562" y="500" width="3" height="1" fill="#c0c0c0"/>
<rect x="568" y="500" width="3" height="1" fill="#c0c0c0"/>
<rect x="574" y="500" width="3" height="1" fill="#c0c0c0"/>
<rect x="580" y="500" width="3" height="1" fill="#c0c0c0"/>
<rect x="586" y="500" width="3" height="1" fill="#c0c0c0"/>
<rect x="592" y="500" width="3" height="1" fill="#c0c0c0"/>
<rect x="598" y="500" width="3" height="1" fill="#c0c0c0"/>
<rect x="604" y="500" width="3" height="1" fill="#c0c0c0"/>
<rect x="610" y="500" width="3" height="1" fill="#c0c0c0"/>
<rect x="616" y="500" width="3" height="1" fill="#c0c0c0"/>
<rect x="622" y="500" width="3" height="1" fill="#c0c0c0"/>
<rect x="628" y="500" width="3" height="1" fill="#c0c0c0"/>
<rect x="634" y="500" width="3" height="1" fill="#c0c0c0"/>
<rect x="640" y="500" width="3" height="1" fill="#c0c0c0"/>
<rect x="646" y="500" width="3" height="1" fill="#c0c0c0"/>
<rect x="652" y="500" width="3" height="1" fill="#c0c0c0"/>
<rect x="658" y="500" width="3" height="1" fill="#c0c0c0"/>
<rect x="664" y="500" width="3" height="1" fill="#c0c0c0"/>
<rect x="670" y="500" width="3" height="1" fill="#c0c0c0"/>
<rect x="676" y="500" width="3" height="1" fill="#c0c0c0"/>
<rect x="682" y="500" width="3" height="1" fill="#c0c0c0"/>
<rect x="688" y="500" width="3" height="1" fill="#c0c0c0"/>
<rect x="694" y="500" width="3" height="1" fill="#c0c0c0"/>
<rect x="700" y="500" width="3" height="1" fill="#c0c0c0"/>
<rect x="706" y="500" width="3" height="1" fill="#c0c0c0"/>
<rect x="712" y="500" width="3" height="1" fill="#c0c0c0"/>
<rect x="718" y="500" width="3" height="1" fill="#c0c0c0"/>
<rect x="724" y="500" width="3" height="1" fill="#c0c0c0"/>
<rect x="730" y="500" width="3" height="1" fill="#c0c0c0"/>
<rect x="736" y="500" width="3" height="1" fill="#c0c0c0"/>
<rect x="742" y="500" width="3" height="1" fill="#c0c0c0"/>
<rect x="748" y="500" width="3" height="1" fill="#c0c0c0"/>
<rect x="754" y="500" width="3" height="1" fill="#c0c0c0"/>
<rect x="760" y="500" width="3" height="1" fill="#c0c0c0"/>
<rect x="766" y="500" width="3" height="1" fill="#c0c0c0"/>
<rect x="772" y="500" width="3" height="1" fill="#c0c0c0"/>
<rect x="778" y="500" width="3" height="1" fill="#c0c0c0"/>
<rect x="784" y="500" width="3" height="1" fill="#c0c0c0"/>
<rect x="790" y="500" width="3" height="1" fill="#c0c0c0"/>
<rect x="796" y="500" width="3" height="1" fill="#c0c0c0"/>
<rect x="802" y="500" width="3" height="1" fill="#c0c0c0"/>
<rect x="808" y="500" width="3" height="1" fill="#c0c0c0"/>
<rect x="814" y="500" width="3" height="1" fill="#c0c0c0"/>
<rect x="820" y="500" width="3" height="1" fill="#c0c0c0"/>
<rect x="826" y="500" width="3" height="1" fill="#c0c0c0"/>
<rect x="832" y="500" width="3" height="1" fill="#c0c0c0"/>
<rect x="838" y="500" width="3" height="1" fill="#c0c0c0"/>
<rect x="844" y="500" width="3" height="1" fill="#c0c0c0"/>
<rect x="850" y="500" width="3" height="1" fill="#c0c0c0"/>
<rect x="856" y="500" width="3" height="1" fill="#c0c0c0"/>
<rect x="862" y="500" width="3" height="1" fill="#c0c0c0"/>
<rect x="868" y="500" width="3" height="1" fill="#c0c0c0"/>
<rect x="874" y="500" width="3" height="1" fill="#c0c0c0"/>
<rect x="880" y="500" width="3" height="1" fill="#c0c0c0"/>
<rect x="886" y="500" width="3" height="1" fill="#c0c0c0"/>
<rect x="892" y="500" width="3" height="1" fill="#c0c0c0"/>
<rect x="898" y="500" width="3" height="1" fill="#c0c0c0"/>
<rect x="904" y="500" width="3" height="1" fill="#c0c0c0"/>
<rect x="910" y="500" width="3" height="1" fill="#c0c0c0"/>
<rect x="916" y="500" width="3" height="1" fill="#c0c0c0"/>
<rect x="922" y="500" width="3" height="1" fill="#c0c0c0"/>
<rect x="928" y="500" width="3" height="1" fill="#c0c0c0"/>
<rect x="934" y="500" width="3" height="1" fill="#c0c0c0"/>
<rect x="940" y="500" width="3" height="1" fill="#c0c0c0"/>
<rect x="946" y="500" width="3" height="1" fill="#c0c0c0"/>
<rect x="952" y="500" width="3" height="1" fill="#c0c0c0"/>
<rect x="958" y="500" width="3" height="1" fill="#c0c0c0"/>
<rect x="964" y="500" width="3" height="1" fill="#c0c0c0"/>
<rect x="970" y="500" width="3" height="1" fill="#c0c0c0"/>
<rect x="976" y="500" width="3" height="1" fill="#c0c0c0"/>
<rect x="982" y="500" width="3" height="1" fill="#c0c0c0"/>
<rect x="988" y="500" width="3" height="1" fill="#c0c0c0"/>
<rect x="994" y="500" width="3" height="1" fill="#c0c0c0"/>
<rect x="1000" y="500" width="3" height="1" fill="#c0c0c0"/>
<rect x="1006" y="500" width="3" height="1" fill="#c0c0c0"/>
<rect x="1012" y="500" width="3" height="1" fill="#c0c0c0"/>
<rect x="1018" y="500" width="3" height="1" fill="#c0c0c0"/>
<rect x="1024" y="500" width="3" height="1" fill="#c0c0c0"/>
<rect x="1030" y="500" width="3" height="1" fill="#c0c0c0"/>
<rect x="1036" y="500" width="3" height="1" fill="#c0c0c0"/>
<rect x="1042" y="500" width="3" height="1" fill="#c0c0c0"/>
<rect x="1048" y="500" width="3" height="1" fill="#c0c0c0"/>
<rect x="1054" y="500" width="3" height="1" fill="#c0c0c0"/>
<rect x="1060" y="500" width="3" height="1" fill="#c0c0c0"/>
<rect x="1066" y="500" width="3" height="1" fill="#c0c0c0"/>
<rect x="1072" y="500" width="3" height="1" fill="#c0c0c0"/>
<rect x="1078" y="500" width="3" height="1" fill="#c0c0c0"/>
<rect x="1084" y="500" width="3" height="1" fill="#c0c0c0"/>
<rect x="1090" y="500" width="3" height="1" fill="#c0c0c0"/>
<rect x="1096" y="500" width="3" height="1" fill="#c0c0c0"/>
<rect x="1102" y="500" width="3" height="1" fill="#c0c0c0"/>
<rect x="1108" y="500" width="3" height="1" fill="#c0c0c0"/>
<rect x="1114" y="500" width="3" height="1" fill="#c0c0c0"/>
<rect x="1120" y="500" width="3" height="1" fill="#c0c0c0"/>
<rect x="1126" y="500" width="3" height="1" fill="#c0c0c0"/>
<rect x="1132" y="500" width="3" height="1" fill="#c0c0c0"/>
<rect x="1138" y="500" width="3" height="1" fill="#c0c0c0"/>
<rect x="1144" y="500" width="3" height="1" fill="#c0c0c0"/>
<rect x="1150" y="500" width="3" height="1" fill="#c0c0c0"/>
<rect x="1156" y="500" width="3" height="1" fill="#c0c0c0"/>
<rect x="1162" y="500" width="3" height="1" fill="#c0c0c0"/>
<rect x="4" y="528" width="3" height="1" fill="#c0c0c0"/>
<rect x="10" y="528" width="3" height="1" fill="#c0c0c0"/>
<rect x="16" y="528" width="3" height="1" fill="#c0c0c0"/>
<rect x="22" y="528" width="3" height="1" fill="#c0c0c0"/>
<rect x="28" y="528" width="3" height="1" fill="#c0c0c0"/>
<rect x="34" y="528" width="3" height="1" fill="#c0c0c0"/>
<rect x="40" y="528" width="3" height="1" fill="#c0c0c0"/>
<rect x="46" y="528" width="3" height="1" fill="#c0c0c0"/>
<rect x="52" y="528" width="3" height="1" fill="#c0c0c0"/>
<rect x="58" y="528" width="3" height="1" fill="#c0c0c0"/>
<rect x="64" y="528" width="3" height="1" fill="#c0c0c0"/>
<rect x="70" y="528" width="3" height="1" fill="#c0c0c0"/>
<rect x="76" y="528" width="3" height="1" fill="#c0c0c0"/>
<rect x="82" y="528" width="3" height="1" fill="#c0c0c0"/>
<rect x="88" y="528" width="3" height="1" fill="#c0c0c0"/>
<rect x="94" y="528" width="3" height="1" fill="#c0c0c0"/>
<rect x="100" y="528" width="3" height="1" fill="#c0c0c0"/>
<rect x="106" y="528" width="3" height="1" fill="#c0c0c0"/>
<rect x="112" y="528" width="3" height="1" fill="#c0c0c0"/>
<rect x="118" y="528" width="3" height="1" fill="#c0c0c0"/>
<rect x="124" y="528" width="3" height="1" fill="#c0c0c0"/>
<rect x="130" y="528" width="3" height="1" fill="#c0c0c0"/>
<rect x="136" y="528" width="3" height="1" fill="#c0c0c0"/>
<rect x="142" y="528" width="3" height="1" fill="#c0c0c0"/>
<rect x="148" y="528" width="3" height="1" fill="#c0c0c0"/>
<rect x="154" y="528" width="3" height="1" fill="#c0c0c0"/>
<rect x="160" y="528" width="3" height="1" fill="#c0c0c0"/>
<rect x="166" y="528" width="3" height="1" fill="#c0c0c0"/>
<rect x="172" y="528" width="3" height="1" fill="#c0c0c0"/>
<rect x="178" y="528" width="3" height="1" fill="#c0c0c0"/>
<rect x="184" y="528" width="3" height="1" fill="#c0c0c0"/>
<rect x="190" y="528" width="3" height="1" fill="#c0c0c0"/>
<rect x="196" y="528" width="3" height="1" fill="#c0c0c0"/>
<rect x="202" y="528" width="3" height="1" fill="#c0c0c0"/>
<rect x="208" y="528" width="3" height="1" fill="#c0c0c0"/>
<rect x="214" y="528" width="3" height="1" fill="#c0c0c0"/>
<rect x="220" y="528" width="3" height="1" fill="#c0c0c0"/>
<rect x="226" y="528" width="3" height="1" fill="#c0c0c0"/>
<rect x="232" y="528" width="3" height="1" fill="#c0c0c0"/>
<rect x="238" y="528" width="3" height="1" fill="#c0c0c0"/>
<rect x="244" y="528" width="3" height="1" fill="#c0c0c0"/>
<rect x="250" y="528" width="3" height="1" fill="#c0c0c0"/>
<rect x="256" y="528" width="3" height="1" fill="#c0c0c0"/>
<rect x="262" y="528" width="3" height="1" fill="#c0c0c0"/>
<rect x="268" y="528" width="3" height="1" fill="#c0c0c0"/>
<rect x="274" y="528" width="3" height="1" fill="#c0c0c0"/>
<rect x="280" y="528" width="3" height="1" fill="#c0c0c0"/>
<rect x="286" y="528" width="3" height="1" fill="#c0c0c0"/>
<rect x="292" y="528" width="3" height="1" fill="#c0c0c0"/>
<rect x="298" y="528" width="3" height="1" fill="#c0c0c0"/>
<rect x="304" y="528" width="3" height="1" fill="#c0c0c0"/>
<rect x="310" y="528" width="3" height="1" fill="#c0c0c0"/>
<rect x="316" y="528" width="3" height="1" fill="#c0c0c0"/>
<rect x="322" y="528" width="3" height="1" fill="#c0c0c0"/>
<rect x="328" y="528" width="3" height="1" fill="#c0c0c0"/>
<rect x="334" y="528" width="3" height="1" fill="#c0c0c0"/>
<rect x="340" y="528" width="3" height="1" fill="#c0c0c0"/>
<rect x="346" y="528" width="3" height="1" fill="#c0c0c0"/>
<rect x="352" y="528" width="3" height="1" fill="#c0c0c0"/>
<rect x="358" y="528" width="3" height="1" fill="#c0c0c0"/>
<rect x="364" y="528" width="3" height="1" fill="#c0c0c0"/>
<rect x="370" y="528" width="3" height="1" fill="#c0c0c0"/>
<rect x="376" y="528" width="3" height="1" fill="#c0c0c0"/>
<rect x="382" y="528" width="3" height="1" fill="#c0c0c0"/>
<rect x="388" y="528" width="3" height="1" fill="#c0c0c0"/>
<rect x="394" y="528" width="3" height="1" fill="#c0c0c0"/>
<rect x="400" y="528" width="3" height="1" fill="#c0c0c0"/>
<rect x="406" y="528" width="3" height="1" fill="#c0c0c0"/>
<rect x="412" y="528" width="3" height="1" fill="#c0c0c0"/>
<rect x="418" y="528" width="3" height="1" fill="#c0c0c0"/>
<rect x="424" y="528" width="3" height="1" fill="#c0c0c0"/>
<rect x="430" y="528" width="3" height="1" fill="#c0c0c0"/>
<rect x="436" y="528" width="3" height="1" fill="#c0c0c0"/>
<rect x="442" y="528" width="3" height="1" fill="#c0c0c0"/>
<rect x="448" y="528" width="3" height="1" fill="#c0c0c0"/>
<rect x="454" y="528" width="3" height="1" fill="#c0c0c0"/>
<rect x="460" y="528" width="3" height="1" fill="#c0c0c0"/>
<rect x="466" y="528" width="3" height="1" fill="#c0c0c0"/>
<rect x="472" y="528" width="3" height="1" fill="#c0c0c0"/>
<rect x="478" y="528" width="3" height="1" fill="#c0c0c0"/>
<rect x="484" y="528" width="3" height="1" fill="#c0c0c0"/>
<rect x="490" y="528" width="3" height="1" fill="#c0c0c0"/>
<rect x="496" y="528" width="3" height="1" fill="#c0c0c0"/>
<rect x="502" y="528" width="3" height="1" fill="#c0c0c0"/>
<rect x="508" y="528" width="3" height="1" fill="#c0c0c0"/>
<rect x="514" y="528" width="3" height="1" fill="#c0c0c0"/>
<rect x="520" y="528" width="3" height="1" fill="#c0c0c0"/>
<rect x="526" y="528" width="3" height="1" fill="#c0c0c0"/>
<rect x="532" y="528" width="3" height="1" fill="#c0c0c0"/>
<rect x="538" y="528" width="3" height="1" fill="#c0c0c0"/>
<rect x="544" y="528" width="3" height="1" fill="#c0c0c0"/>
<rect x="550" y="528" width="3" height="1" fill="#c0c0c0"/>
<rect x="556" y="528" width="3" height="1" fill="#c0c0c0"/>
<rect x="562" y="528" width="3" height="1" fill="#c0c0c0"/>
<rect x="568" y="528" width="3" height="1" fill="#c0c0c0"/>
<rect x="574" y="528" width="3" height="1" fill="#c0c0c0"/>
<rect x="580" y="528" width="3" height="1" fill="#c0c0c0"/>
<rect x="586" y="528" width="3" height="1" fill="#c0c0c0"/>
<rect x="592" y="528" width="3" height="1" fill="#c0c0c0"/>
<rect x="598" y="528" width="3" height="1" fill="#c0c0c0"/>
<rect x="604" y="528" width="3" height="1" fill="#c0c0c0"/>
<rect x="610" y="528" width="3" height="1" fill="#c0c0c0"/>
<rect x="616" y="528" width="3" height="1" fill="#c0c0c0"/>
<rect x="622" y="528" width="3" height="1" fill="#c0c0c0"/>
<rect x="628" y="528" width="3" height="1" fill="#c0c0c0"/>
<rect x="634" y="528" width="3" height="1" fill="#c0c0c0"/>
<rect x="640" y="528" width="3" height="1" fill="#c0c0c0"/>
<rect x="646" y="528" width="3" height="1" fill="#c0c0c0"/>
<rect x="652" y="528" width="3" height="1" fill="#c0c0c0"/>
<rect x="658" y="528" width="3" height="1" fill="#c0c0c0"/>
<rect x="664" y="528" width="3" height="1" fill="#c0c0c0"/>
<rect x="670" y="528" width="3" height="1" fill="#c0c0c0"/>
<rect x="676" y="528" width="3" height="1" fill="#c0c0c0"/>
<rect x="682" y="528" width="3" height="1" fill="#c0c0c0"/>
<rect x="688" y="528" width="3" height="1" fill="#c0c0c0"/>
<rect x="694" y="528" width="3" height="1" fill="#c0c0c0"/>
<rect x="700" y="528" width="3" height="1" fill="#c0c0c0"/>
<rect x="706" y="528" width="3" height="1" fill="#c0c0c0"/>
<rect x="712" y="528" width="3" height="1" fill="#c0c0c0"/>
<rect x="718" y="528" width="3" height="1" fill="#c0c0c0"/>
<rect x="724" y="528" width="3" height="1" fill="#c0c0c0"/>
<rect x="730" y="528" width="3" height="1" fill="#c0c0c0"/>
<rect x="736" y="528" width="3" height="1" fill="#c0c0c0"/>
<rect x="742" y="528" width="3" height="1" fill="#c0c0c0"/>
<rect x="748" y="528" width="3" height="1" fill="#c0c0c0"/>
<rect x="754" y="528" width="3" height="1" fill="#c0c0c0"/>
<rect x="760" y="528" width="3" height="1" fill="#c0c0c0"/>
<rect x="766" y="528" width="3" height="1" fill="#c0c0c0"/>
<rect x="772" y="528" width="3" height="1" fill="#c0c0c0"/>
<rect x="778" y="528" width="3" height="1" fill="#c0c0c0"/>
<rect x="784" y="528" width="3" height="1" fill="#c0c0c0"/>
<rect x="790" y="528" width="3" height="1" fill="#c0c0c0"/>
<rect x="796" y="528" width="3" height="1" fill="#c0c0c0"/>
<rect x="802" y="528" width="3" height="1" fill="#c0c0c0"/>
<rect x="808" y="528" width="3" height="1" fill="#c0c0c0"/>
<rect x="814" y="528" width="3" height="1" fill="#c0c0c0"/>
<rect x="820" y="528" width="3" height="1" fill="#c0c0c0"/>
<rect x="826" y="528" width="3" height="1" fill="#c0c0c0"/>
<rect x="832" y="528" width="3" height="1" fill="#c0c0c0"/>
<rect x="838" y="528" width="3" height="1" fill="#c0c0c0"/>
<rect x="844" y="528" width="3" height="1" fill="#c0c0c0"/>
<rect x="850" y="528" width="3" height="1" fill="#c0c0c0"/>
<rect x="856" y="528" width="3" height="1" fill="#c0c0c0"/>
<rect x="862" y="528" width="3" height="1" fill="#c0c0c0"/>
<rect x="868" y="528" width="3" height="1" fill="#c0c0c0"/>
<rect x="874" y="528" width="3" height="1" fill="#c0c0c0"/>
<rect x="880" y="528" width="3" height="1" fill="#c0c0c0"/>
<rect x="886" y="528" width="3" height="1" fill="#c0c0c0"/>
<rect x="892" y="528" width="3" height="1" fill="#c0c0c0"/>
<rect x="898" y="528" width="3" height="1" fill="#c0c0c0"/>
<rect x="904" y="528" width="3" height="1" fill="#c0c0c0"/>
<rect x="910" y="528" width="3" height="1" fill="#c0c0c0"/>
<rect x="916" y="528" width="3" height="1" fill="#c0c0c0"/>
<rect x="922" y="528" width="3" height="1" fill="#c0c0c0"/>
<rect x="928" y="528" width="3" height="1" fill="#c0c0c0"/>
<rect x="934" y="528" width="3" height="1" fill="#c0c0c0"/>
<rect x="940" y="528" width="3" height="1" fill="#c0c0c0"/>
<rect x="946" y="528" width="3" height="1" fill="#c0c0c0"/>
<rect x="952" y="528" width="3" height="1" fill="#c0c0c0"/>
<rect x="958" y="528" width="3" height="1" fill="#c0c0c0"/>
<rect x="964" y="528" width="3" height="1" fill="#c0c0c0"/>
<rect x="970" y="528" width="3" height="1" fill="#c0c0c0"/>
<rect x="976" y="528" width="3" height="1" fill="#c0c0c0"/>
<rect x="982" y="528" width="3" height="1" fill="#c0c0c0"/>
<rect x="988" y="528" width="3" height="1" fill="#c0c0c0"/>
<rect x="994" y="528" width="3" height="1" fill="#c0c0c0"/>
<rect x="1000" y="528" width="3" height="1" fill="#c0c0c0"/>
<rect x="1006" y="528" width="3" height="1" fill="#c0c0c0"/>
<rect x="1012" y="528" width="3" height="1" fill="#c0c0c0"/>
<rect x="1018" y="528" width="3" height="1" fill="#c0c0c0"/>
<rect x="1024" y="528" width="3" height="1" fill="#c0c0c0"/>
<rect x="1030" y="528" width="3" height="1" fill="#c0c0c0"/>
<rect x="1036" y="528" width="3" height="1" fill="#c0c0c0"/>
<rect x="1042" y="528" width="3" height="1" fill="#c0c0c0"/>
<rect x="1048" y="528" width="3" height="1" fill="#c0c0c0"/>
<rect x="1054" y="528" width="3" height="1" fill="#c0c0c0"/>
<rect x="1060" y="528" width="3" height="1" fill="#c0c0c0"/>
<rect x="1066" y="528" width="3" height="1" fill="#c0c0c0"/>
<rect x="1072" y="528" width="3" height="1" fill="#c0c0c0"/>
<rect x="1078" y="528" width="3" height="1" fill="#c0c0c0"/>
<rect x="1084" y="528" width="3" height="1" fill="#c0c0c0"/>
<rect x="1090" y="528" width="3" height="1" fill="#c0c0c0"/>
<rect x="1096" y="528" width="3" height="1" fill="#c0c0c0"/>
<rect x="1102" y="528" width="3" height="1" fill="#c0c0c0"/>
<rect x="1108" y="528" width="3" height="1" fill="#c0c0c0"/>
<rect x="1114" y="528" width="3" height="1" fill="#c0c0c0"/>
<rect x="1120" y="528" width="3" height="1" fill="#c0c0c0"/>
<rect x="1126" y="528" width="3" height="1" fill="#c0c0c0"/>
<rect x="1132" y="528" width="3" height="1" fill="#c0c0c0"/>
<rect x="1138" y="528" width="3" height="1" fill="#c0c0c0"/>
<rect x="1144" y="528" width="3" height="1" fill="#c0c0c0"/>
<rect x="1150" y="528" width="3" height="1" fill="#c0c0c0"/>
<rect x="1156" y="528" width="3" height="1" fill="#c0c0c0"/>
<rect x="1162" y="528" width="3" height="1" fill="#c0c0c0"/>
</g>
<polyline points="3.0,520.2 11.0,519.2 19.0,518.4 27.0,511.4 35.0,509.4 43.0,511.2 51.0,511.4 59.0,510.4 67.0,512.4 75.0,510.4 83.0,515.2 91.0,511.8 99.0,508.4 107.0,507.2 115.0,505.5 123.0,504.5 131.0,506.8 139.0,515.2 147.0,515.4 155.0,516.4 163.0,517.4 171.0,514.2 179.0,509.4 187.0,514.4 195.0,517.2 203.0,517.4 211.0,518.8 219.0,520.2 227.0,519.2 235.0,522.4 243.0,526.1 251.0,524.2 259.0,524.2 267.0,524.2 275.0,526.1 283.0,529.3 291.0,528.1 299.0,529.3 307.0,529.3 315.0,530.3 323.0,531.3 331.0,526.7 339.0,526.1 347.0,525.4 355.0,524.4 363.0,523.4 371.0,524.4 379.0,526.3 387.0,522.4 395.0,521.4 403.0,522.4 411.0,518.4 419.0,521.4 427.0,513.4 435.0,512.4 443.0,513.4 451.0,514.2 459.0,515.4 467.0,509.8 475.0,502.3 483.0,505.5 491.0,507.2 499.0,510.2 507.0,505.9 515.0,504.3 523.0,504.3 531.0,501.3 539.0,502.3 547.0,500.3 555.0,503.5 563.0,504.3 571.0,504.3 579.0,498.5 587.0,504.5 595.0,503.3 603.0,501.5 611.0,500.3 619.0,499.5 627.0,499.5 635.0,500.9 643.0,506.2 651.0,515.8 659.0,516.4 667.0,512.4 675.0,510.4 683.0,511.4 691.0,506.2 699.0,503.3 707.0,506.4 715.0,510.2 723.0,505.9 731.0,504.5 739.0,503.3 747.0,504.5 755.0,509.4 763.0,511.4 771.0,512.4 779.0,512.4 787.0,514.2 795.0,512.4 803.0,515.2 811.0,517.4 819.0,523.4 827.0,522.4 835.0,515.4 843.0,518.4 851.0,514.2 859.0,515.8 867.0,521.4 875.0,520.2 883.0,519.2 891.0,523.4 899.0,526.3 907.0,526.3 915.0,522.2" fill="none" stroke="#1e90ff" stroke-width="1" shape-rendering="crispEdges"/>
<text x="8" y="491" font-size="9.9" fill="#000" textLength="67" lengthAdjust="spacingAndGlyphs" stroke="#000" stroke-width="0.15">RSI(14) 39.6056</text>
<rect x="1166" y="480" width="1" height="1" fill="#000"/>
<rect x="1166" y="549" width="1" height="1" fill="#000"/>
<text x="1168.4" y="489" font-size="9.9" fill="#000" textLength="14.1" lengthAdjust="spacingAndGlyphs" stroke="#000" stroke-width="0.15">100</text>
<text x="1168.4" y="504" font-size="9.9" fill="#000" textLength="9" lengthAdjust="spacingAndGlyphs" stroke="#000" stroke-width="0.15">70</text>
<text x="1168.4" y="532" font-size="9.9" fill="#000" textLength="9" lengthAdjust="spacingAndGlyphs" stroke="#000" stroke-width="0.15">30</text>
<text x="1168.4" y="547" font-size="9.9" fill="#000" textLength="4.8" lengthAdjust="spacingAndGlyphs" stroke="#000" stroke-width="0.15">0</text>
<rect x="3" y="551" width="1" height="3" fill="#000"/>
<text x="2.2" y="563" font-size="9.9" fill="#000" textLength="46.4" lengthAdjust="spacingAndGlyphs" stroke="#000" stroke-width="0.15">3 Sep 2021</text>
<rect x="67" y="551" width="1" height="3" fill="#000"/>
<text x="66.2" y="563" font-size="9.9" fill="#000" textLength="51.1" lengthAdjust="spacingAndGlyphs" stroke="#000" stroke-width="0.15">13 Sep 2021</text>
<rect x="131" y="551" width="1" height="3" fill="#000"/>
<text x="130.2" y="563" font-size="9.9" fill="#000" textLength="51.4" lengthAdjust="spacingAndGlyphs" stroke="#000" stroke-width="0.15">22 Sep 2021</text>
<rect x="195" y="551" width="1" height="3" fill="#000"/>
<text x="194.2" y="563" font-size="9.9" fill="#000" textLength="44.8" lengthAdjust="spacingAndGlyphs" stroke="#000" stroke-width="0.15">1 Oct 2021</text>
<rect x="259" y="551" width="1" height="3" fill="#000"/>
<text x="258.2" y="563" font-size="9.9" fill="#000" textLength="50.1" lengthAdjust="spacingAndGlyphs" stroke="#000" stroke-width="0.15">11 Oct 2021</text>
<rect x="323" y="551" width="1" height="3" fill="#000"/>
<text x="322.2" y="563" font-size="9.9" fill="#000" textLength="50.2" lengthAdjust="spacingAndGlyphs" stroke="#000" stroke-width="0.15">20 Oct 2021</text>
<rect x="387" y="551" width="1" height="3" fill="#000"/>
<text x="386.2" y="563" font-size="9.9" fill="#000" textLength="50.4" lengthAdjust="spacingAndGlyphs" stroke="#000" stroke-width="0.15">29 Oct 2021</text>
<rect x="451" y="551" width="1" height="3" fill="#000"/>
<text x="450.2" y="563" font-size="9.9" fill="#000" textLength="48.9" lengthAdjust="spacingAndGlyphs" stroke="#000" stroke-width="0.15">8 Nov 2021</text>
<rect x="515" y="551" width="1" height="3" fill="#000"/>
<text x="514.2" y="563" font-size="9.9" fill="#000" textLength="53.4" lengthAdjust="spacingAndGlyphs" stroke="#000" stroke-width="0.15">17 Nov 2021</text>
<rect x="579" y="551" width="1" height="3" fill="#000"/>
<text x="578.2" y="563" font-size="9.9" fill="#000" textLength="53.1" lengthAdjust="spacingAndGlyphs" stroke="#000" stroke-width="0.15">26 Nov 2021</text>
<rect x="643" y="551" width="1" height="3" fill="#000"/>
<text x="642.2" y="563" font-size="9.9" fill="#000" textLength="47" lengthAdjust="spacingAndGlyphs" stroke="#000" stroke-width="0.15">6 Dec 2021</text>
<rect x="707" y="551" width="1" height="3" fill="#000"/>
<text x="706.2" y="563" font-size="9.9" fill="#000" textLength="51.1" lengthAdjust="spacingAndGlyphs" stroke="#000" stroke-width="0.15">15 Dec 2021</text>
<rect x="771" y="551" width="1" height="3" fill="#000"/>
<text x="770.2" y="563" font-size="9.9" fill="#000" textLength="51.1" lengthAdjust="spacingAndGlyphs" stroke="#000" stroke-width="0.15">24 Dec 2021</text>
<rect x="835" y="551" width="1" height="3" fill="#000"/>
<text x="834.2" y="563" font-size="9.9" fill="#000" textLength="44.8" lengthAdjust="spacingAndGlyphs" stroke="#000" stroke-width="0.15">3 Jan 2022</text>
<rect x="899" y="551" width="1" height="3" fill="#000"/>
<text x="898.2" y="563" font-size="9.9" fill="#000" textLength="48.9" lengthAdjust="spacingAndGlyphs" stroke="#000" stroke-width="0.15">12 Jan 2022</text>
<rect x="0" y="571" width="1206" height="1" fill="#e3e3e3"/>
<rect x="0" y="573" width="1206" height="1" fill="#000"/>
<rect x="0" y="574" width="1206" height="18" fill="#f0f0f0"/>
<rect x="0" y="592" width="1206" height="4" fill="#f0f0f0"/>
<rect x="0" y="593" width="1206" height="1" fill="#fafafa"/>
<rect x="416" y="573" width="108" height="19" fill="#000"/>
<rect x="417" y="573" width="106" height="18" fill="#ffffff"/>
<text x="15.7" y="588" font-size="12.3" fill="#6d6d6d" textLength="77.3" lengthAdjust="spacingAndGlyphs">USDX,Weekly</text>
<text x="115" y="588" font-size="12.3" fill="#6d6d6d" textLength="85" lengthAdjust="spacingAndGlyphs">EURUSD-,Daily</text>
<text x="222" y="588" font-size="12.3" fill="#6d6d6d" textLength="87" lengthAdjust="spacingAndGlyphs">AUDUSD-,Daily</text>
<text x="332.6" y="588" font-size="12.3" fill="#6d6d6d" textLength="71.4" lengthAdjust="spacingAndGlyphs">USDCHF-,H4</text>
<text x="427.5" y="588" font-size="12.3" fill="#000" textLength="84.5" lengthAdjust="spacingAndGlyphs">USDCAD-,Daily</text>
<text x="536.7" y="588" font-size="12.3" fill="#6d6d6d" textLength="87.1" lengthAdjust="spacingAndGlyphs">USDCNH-,Daily</text>
<text x="647" y="588" font-size="12.3" fill="#6d6d6d" textLength="74" lengthAdjust="spacingAndGlyphs">XAUUSD-,H1</text>
<text x="743" y="588" font-size="12.3" fill="#6d6d6d" textLength="69" lengthAdjust="spacingAndGlyphs">UKOil-,Daily</text>
<text x="836" y="588" font-size="12.3" fill="#6d6d6d" textLength="63.7" lengthAdjust="spacingAndGlyphs">DJ30-,Daily</text>
<text x="923.3" y="588" font-size="12.3" fill="#6d6d6d" textLength="61.2" lengthAdjust="spacingAndGlyphs">UK100-,H1</text>
<rect x="104" y="578" width="1" height="13" fill="#6d6d6d"/>
<rect x="212" y="578" width="1" height="13" fill="#6d6d6d"/>
<rect x="320" y="578" width="1" height="13" fill="#6d6d6d"/>
<rect x="636" y="578" width="1" height="13" fill="#6d6d6d"/>
<rect x="732" y="578" width="1" height="13" fill="#6d6d6d"/>
<rect x="824" y="578" width="1" height="13" fill="#6d6d6d"/>
<rect x="913" y="578" width="1" height="13" fill="#6d6d6d"/>
<rect x="996" y="578" width="1" height="13" fill="#6d6d6d"/>
<path d="M1181,582 L1184.3,578.8 L1184.3,585.2 Z" fill="#909090"/>
<path d="M1203.3,582 L1200,578.8 L1200,585.2 Z" fill="#909090"/>
</svg></body></html>
